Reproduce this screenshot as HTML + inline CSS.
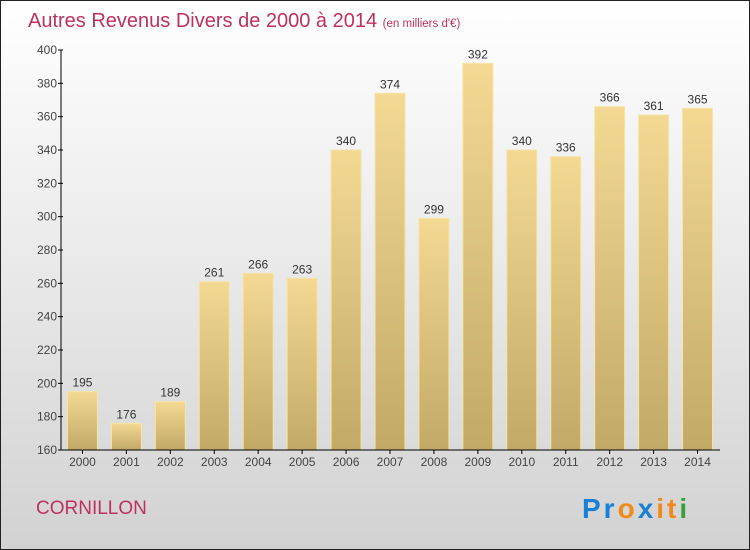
<!DOCTYPE html>
<html><head><meta charset="utf-8"><style>
body{margin:0;}
#c{width:750px;height:550px;position:relative;overflow:hidden;font-family:"Liberation Sans","DejaVu Sans",sans-serif;}
</style></head><body>
<div id="c">
<svg id="s" width="750" height="550" xmlns="http://www.w3.org/2000/svg">
<defs>
<linearGradient id="bg" x1="0" y1="0" x2="0" y2="1"><stop offset="0" stop-color="#ffffff"/><stop offset="1" stop-color="#d2d2d2"/></linearGradient>
<linearGradient id="bar" x1="0" y1="0" x2="0" y2="1"><stop offset="0" stop-color="#f3d992"/><stop offset="1" stop-color="#c2a966"/></linearGradient>
</defs>
<rect x="0.5" y="0.5" width="749" height="549" fill="url(#bg)" stroke="#222"/>
<text x="28" y="27" font-size="20" fill="#c0305f">Autres Revenus Divers de 2000 à 2014 <tspan font-size="11.5">(en milliers d'€)</tspan></text>
<g id="yaxis"></g>
<g id="bars"></g>
<g id="xaxis"></g>
<text x="36" y="514" font-size="19" fill="#c0305f">CORNILLON</text>
<text x="582" y="518" font-size="28" font-weight="bold" letter-spacing="3"><tspan fill="#1a7fd6">Pr</tspan><tspan fill="#f18a1c">o</tspan><tspan fill="#1a7fd6">x</tspan><tspan fill="#f18a1c">i</tspan><tspan fill="#f18a1c">t</tspan><tspan fill="#38a040">i</tspan></text>
</svg>
</div>
<script>
const years=["2000","2001","2002","2003","2004","2005","2006","2007","2008","2009","2010","2011","2012","2013","2014"];
const values=[195,176,189,261,266,263,340,374,299,392,340,336,366,361,365];
const yTicks=[160,180,200,220,240,260,280,300,320,340,360,380,400];
const NS="http://www.w3.org/2000/svg";
const yMin=160,yMax=400,plotTop=50,plotBot=450,x0=61,x1=720;
const yS=v=>plotBot-(v-yMin)/(yMax-yMin)*(plotBot-plotTop);
const step=(x1-x0)/years.length;
const xc=i=>x0+step*(i+0.5)-0.5;
function mk(t,a,p){const e=document.createElementNS(NS,t);for(const k in a)e.setAttribute(k,a[k]);p.appendChild(e);return e;}
const ya=document.getElementById('yaxis'),xa=document.getElementById('xaxis'),bg=document.getElementById('bars');
const l=mk('line',{x1:x0,y1:plotTop,x2:x0,y2:plotBot,stroke:'#000'},ya);


yTicks.forEach(v=>{
 const t=mk('line',{x1:x0-3,y1:yS(v),x2:x0+2,y2:yS(v),stroke:'#000'},ya);
 
 
 const tx=mk('text',{x:x0-4,y:yS(v)+4,'font-size':12,fill:'#444','text-anchor':'end'},ya);
 tx.textContent=v;
 
 
});
years.forEach((yr,i)=>{
 const r=mk('rect',{x:xc(i)-15,y:yS(values[i]),width:30,height:plotBot-yS(values[i]),fill:'url(#bar)',stroke:'#f6e4a8','stroke-width':1},bg);
 
 
 const vl=mk('text',{x:xc(i),y:yS(values[i])-5,'font-size':12,fill:'#333','text-anchor':'middle'},bg);
 vl.textContent=values[i];
 
 
 const tk=mk('line',{x1:xc(i),y1:plotBot,x2:xc(i),y2:plotBot+4,stroke:'#000'},xa);
 
 
 const xl=mk('text',{x:xc(i),y:plotBot+16,'font-size':12,fill:'#444','text-anchor':'middle'},xa);
 xl.textContent=yr;
 
 
});
const xl2=mk('line',{x1:x0,y1:plotBot,x2:x1,y2:plotBot,stroke:'#000'},xa);


</script>
</body></html>
